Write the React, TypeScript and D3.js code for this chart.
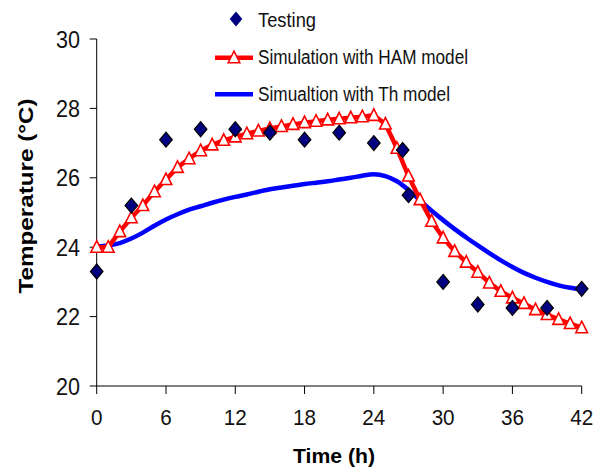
import React from 'react';
import * as d3 from 'd3';

const hours = [0,1,2,3,4,5,6,7,8,9,10,11,12,13,14,15,16,17,18,19,20,21,22,23,24,25,26,27,28,29,30,31,32,33,34,35,36,37,38,39,40,41,42];
const hamValues = [24.0,24.0,24.45,24.85,25.2,25.6,25.95,26.3,26.55,26.78,26.95,27.08,27.18,27.27,27.35,27.42,27.48,27.54,27.59,27.63,27.67,27.7,27.73,27.76,27.8,27.55,26.85,26.05,25.37,24.75,24.27,23.88,23.57,23.28,22.97,22.73,22.54,22.38,22.2,22.06,21.92,21.8,21.68];
const thValues = [24.02,24.05,24.12,24.25,24.42,24.62,24.8,24.95,25.08,25.18,25.28,25.37,25.45,25.52,25.6,25.67,25.72,25.77,25.82,25.86,25.9,25.95,26.0,26.06,26.1,26.05,25.9,25.65,25.35,25.05,24.78,24.52,24.28,24.05,23.83,23.62,23.43,23.26,23.12,23.0,22.9,22.83,22.78];
const testTimes = [0,3,6,9,12,15,18,21,24,26.5,27,30,33,36,39,42];
const testValues = [23.3,25.2,27.1,27.4,27.4,27.3,27.1,27.3,27.0,26.8,25.5,23.0,22.35,22.25,22.25,22.8];
const xTicks = [0,6,12,18,24,30,36,42];
const yTicks = [20,22,24,26,28,30];
const legendLabels = ['Testing','Simulation with HAM model','Simualtion with Th model'];
const xTitle = 'Time (h)';
const yTitle = 'Temperature (°C)';

const FONT = '"Liberation Sans", Arial, sans-serif';

export default function App() {
  const W = 602, H = 471;
  const x = d3.scaleLinear().domain([0, 42]).range([96.7, 581.7]);
  const y = d3.scaleLinear().domain([20, 30]).range([386, 39]);

  const hamLine = d3.line<number>().x((_, i) => x(hours[i])).y((d) => y(d))(hamValues) || '';
  const thLine = d3.line<number>().x((_, i) => x(hours[i])).y((d) => y(d)).curve(d3.curveMonotoneX)(thValues) || '';

  const diamond = (cx: number, cy: number) => `M${cx},${cy - 7.5}L${cx + 6.3},${cy}L${cx},${cy + 7.5}L${cx - 6.3},${cy}Z`;
  const triangle = (cx: number, cy: number) => `M${cx},${cy - 6.5}L${cx + 5.8},${cy + 5}L${cx - 5.8},${cy + 5}Z`;

  return (
    <svg width={W} height={H} style={{ position: 'absolute', left: 0, top: 0, background: '#fff' }} fontFamily={FONT}>
      <rect x={0} y={0} width={W} height={H} fill="#fff" />
      {/* axes */}
      <line x1={x(0)} x2={x(0)} y1={y(30)} y2={y(20)} stroke="#000" strokeWidth={1} />
      <line x1={x(0)} x2={x(42)} y1={y(20)} y2={y(20)} stroke="#000" strokeWidth={1} />
      {yTicks.map((t) => (
        <g key={'y' + t}>
          <line x1={x(0) - 7} x2={x(0)} y1={y(t)} y2={y(t)} stroke="#000" strokeWidth={1} />
          <text x={80} y={y(t) + 8.5} textAnchor="end" fontSize={23} textLength={24} lengthAdjust="spacingAndGlyphs" fill="#111">{t}</text>
        </g>
      ))}
      {xTicks.map((t) => (
        <g key={'x' + t}>
          <line x1={x(t)} x2={x(t)} y1={y(20)} y2={y(20) + 8} stroke="#000" strokeWidth={1} />
          <text x={x(t)} y={425} textAnchor="middle" fontSize={22} textLength={String(t).length * 11.5} lengthAdjust="spacingAndGlyphs" fill="#111">{t}</text>
        </g>
      ))}
      <text x={334} y={463} textAnchor="middle" fontSize={21} fontWeight="bold" textLength={82} lengthAdjust="spacingAndGlyphs">{xTitle}</text>
      <text transform="translate(33,196) rotate(-90)" textAnchor="middle" fontSize={21} fontWeight="bold" textLength={195} lengthAdjust="spacingAndGlyphs">{yTitle}</text>

      {/* series */}
      <path d={thLine} fill="none" stroke="#0000ff" strokeWidth={4.5} strokeLinejoin="round" />
      <path d={hamLine} fill="none" stroke="#ff0000" strokeWidth={4.5} strokeLinejoin="round" />
      {hamValues.map((v, i) => (
        <path key={'t' + i} d={triangle(x(hours[i]), y(v))} fill="#fff" stroke="#ff0000" strokeWidth={1.6} />
      ))}
      {testValues.map((v, i) => (
        <path key={'d' + i} d={diamond(x(testTimes[i]), y(v))} fill="#000080" stroke="#000" strokeWidth={1.2} />
      ))}

      {/* legend */}
      <path d={diamond(236, 19)} fill="#000080" stroke="#000" strokeWidth={0} />
      <text x={258} y={27} fontSize={20} textLength={58} lengthAdjust="spacingAndGlyphs" fill="#111">{legendLabels[0]}</text>
      <line x1={215} x2={253} y1={57.7} y2={57.7} stroke="#ff0000" strokeWidth={4.5} />
      <path d={triangle(234, 57.7)} fill="#fff" stroke="#ff0000" strokeWidth={1.6} />
      <text x={258} y={64} fontSize={20} textLength={210} lengthAdjust="spacingAndGlyphs" fill="#111">{legendLabels[1]}</text>
      <line x1={215} x2={253} y1={94.3} y2={94.3} stroke="#0000ff" strokeWidth={4.5} />
      <text x={258} y={101} fontSize={20} textLength={192} lengthAdjust="spacingAndGlyphs" fill="#111">{legendLabels[2]}</text>
    </svg>
  );
}
